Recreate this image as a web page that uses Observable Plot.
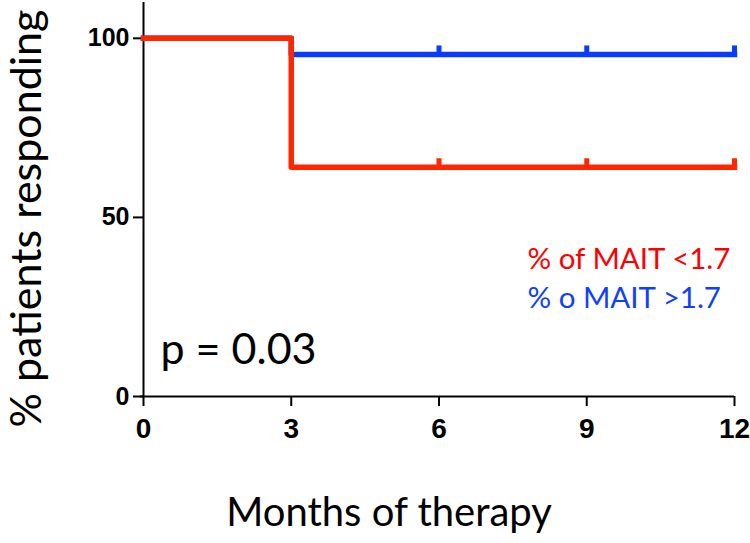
<!DOCTYPE html>
<html><head><meta charset="utf-8">
<script src="https://cdn.jsdelivr.net/npm/d3@7"></script>
<script src="https://cdn.jsdelivr.net/npm/@observablehq/plot@0.6"></script>
<style>body{margin:0;background:#fff} svg{display:block;background:#fff}</style>
</head><body><div id="chart"></div>
<script>
// Data
const lowMonths = [0, 3, 12];
const lowValues = [100, 64, 64];        // % of MAIT <1.7
const highMonths = [0, 3, 12];
const highValues = [100, 95.5, 95.5];   // % o MAIT >1.7
const censorMonths = [6, 9, 12];
const xTicks = [0, 3, 6, 9, 12];
const yTicks = [0, 50, 100];
const legendLabels = ["% of MAIT <1.7", "% o MAIT >1.7"];
const pLabel = "p = 0.03";
const xTitle = "Months of therapy";
const yTitle = "% patients responding";

const RED = "#ff2600", BLUE = "#0a3cff";
const lowData = lowMonths.map((m, i) => ({month: m, value: lowValues[i]}));
const highData = highMonths.map((m, i) => ({month: m, value: highValues[i]}));
const lowCensor = censorMonths.map(m => ({month: m, value: lowValues[lowValues.length - 1]}));
const highCensor = censorMonths.map(m => ({month: m, value: highValues[highValues.length - 1]}));

const tickUp = {draw(ctx) { ctx.moveTo(0, 2); ctx.lineTo(0, -9); }};
const titleFont = "Lato, 'Noto Sans', sans-serif";
const tickFont = "'Liberation Sans', Arial, sans-serif";

const chart = Plot.plot({
  width: 750, height: 543,
  marginLeft: 143, marginRight: 16, marginTop: 2, marginBottom: 147,
  x: {domain: [0, 12]},
  y: {domain: [0, 110]},
  marks: [
    Plot.axisX(xTicks, {tickSize: 10, tickPadding: 12, fontSize: 28, fontWeight: "bold",
      fontFamily: tickFont, label: null, strokeWidth: 2, color: "#000"}),
    Plot.axisY(yTicks, {tickSize: 10, tickPadding: 4, fontSize: 25, fontWeight: "bold",
      fontFamily: tickFont, label: null, strokeWidth: 2, color: "#000"}),
    Plot.ruleY([0], {stroke: "#000", strokeWidth: 2, insetLeft: -3}),
    Plot.ruleX([0], {stroke: "#000", strokeWidth: 2}),
    Plot.line(highData, {x: "month", y: "value", curve: "step-after", stroke: BLUE, strokeWidth: 5.5, strokeLinecap: "square"}),
    Plot.dot(highCensor, {x: "month", y: "value", symbol: tickUp, stroke: BLUE, strokeWidth: 5, r: 4}),
    Plot.line(lowData, {x: "month", y: "value", curve: "step-after", stroke: RED, strokeWidth: 5.5, strokeLinecap: "square"}),
    Plot.dot(lowCensor, {x: "month", y: "value", symbol: tickUp, stroke: RED, strokeWidth: 5, r: 4}),
    Plot.text([yTitle], {frameAnchor: "left", rotate: -90, dx: -116, dy: 19, fontSize: 43,
      fontFamily: titleFont, textAnchor: "middle", lineAnchor: "middle", fill: "#000"}),
    Plot.text([xTitle], {frameAnchor: "bottom", dx: -50, dy: 129, fontSize: 40,
      fontFamily: titleFont, textAnchor: "middle", lineAnchor: "bottom", fill: "#000"}),
    Plot.text([pLabel], {frameAnchor: "bottom-left", dx: 17, dy: -33, fontSize: 43,
      fontFamily: titleFont, textAnchor: "start", lineAnchor: "bottom", fill: "#000"}),
    Plot.text([legendLabels[0]], {frameAnchor: "top-left", dx: 384, dy: 266, fontSize: 29.5,
      fontFamily: titleFont, textAnchor: "start", lineAnchor: "bottom", fill: "#ff0000"}),
    Plot.text([legendLabels[1]], {frameAnchor: "top-left", dx: 384, dy: 305, fontSize: 29.5,
      fontFamily: titleFont, textAnchor: "start", lineAnchor: "bottom", fill: "#1040ff"})
  ]
});
document.getElementById("chart").appendChild(chart);
</script>
</body></html>
